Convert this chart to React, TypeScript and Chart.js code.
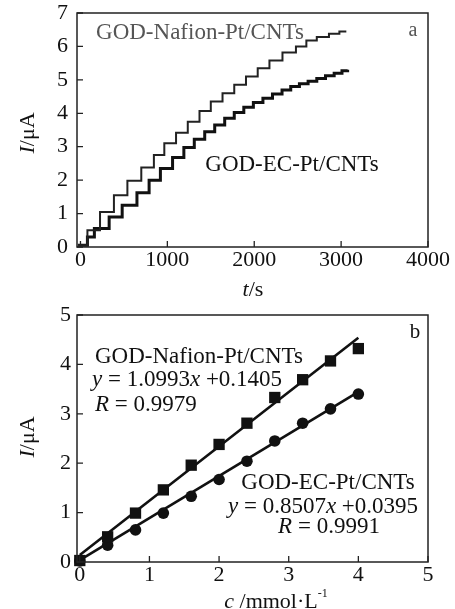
import React, { useEffect, useRef } from 'react';
import { Chart, registerables } from 'chart.js';

Chart.register(...registerables);

// ---------- Panel a: amperometric response (step curves) ----------
const NAFION_T = [-30, 80, 225, 385, 540, 700, 845, 965, 1100, 1235, 1370, 1500, 1635, 1770, 1905, 2040, 2175, 2325, 2480, 2600, 2720, 2860, 2980, 3060];
const NAFION_I = [0.05, 0.5, 1.05, 1.55, 1.98, 2.38, 2.75, 3.1, 3.42, 3.75, 4.07, 4.35, 4.6, 4.85, 5.1, 5.35, 5.58, 5.82, 6.0, 6.18, 6.28, 6.38, 6.45, 6.45];
const EC_T = [-30, 80, 160, 330, 480, 650, 790, 920, 1060, 1190, 1310, 1430, 1545, 1660, 1770, 1880, 1990, 2100, 2210, 2320, 2420, 2520, 2620, 2720, 2820, 2920, 3010, 3075];
const EC_I = [0.05, 0.3, 0.55, 0.9, 1.25, 1.62, 2.0, 2.35, 2.68, 2.98, 3.22, 3.45, 3.65, 3.85, 4.02, 4.18, 4.32, 4.45, 4.58, 4.7, 4.8, 4.88, 4.96, 5.04, 5.12, 5.2, 5.27, 5.3];
const A_X_TICKS = [0, 1000, 2000, 3000, 4000];
const A_Y_TICKS = [0, 1, 2, 3, 4, 5, 6, 7];

// ---------- Panel b: calibration ----------
const CONC = [0, 0.4, 0.8, 1.2, 1.6, 2.0, 2.4, 2.8, 3.2, 3.6, 4.0];
const NAFION_B = [0.03, 0.51, 0.99, 1.46, 1.96, 2.38, 2.81, 3.33, 3.69, 4.07, 4.32];
const EC_B = [0.02, 0.34, 0.65, 0.99, 1.33, 1.67, 2.04, 2.45, 2.81, 3.1, 3.4];
const FIT_X = [0, 4];
const NAFION_FIT = [0.1405, 4.5377];
const EC_FIT = [0.0395, 3.4423];
const B_X_TICKS = [0, 1, 2, 3, 4, 5];
const B_Y_TICKS = [0, 1, 2, 3, 4, 5];

const SERIF = '"Liberation Serif", "Times New Roman", serif';

type Part = { t: string; italic?: boolean; size?: number; dy?: number };
type TextItem = { x: number; y: number; parts: Part[]; size: number; color?: string; align?: 'left' | 'center' | 'right'; rotate?: number };

function drawRich(ctx: CanvasRenderingContext2D, item: TextItem) {
  ctx.save();
  ctx.translate(item.x, item.y);
  if (item.rotate) ctx.rotate(item.rotate);
  const fontOf = (p: Part) => `${p.italic ? 'italic ' : ''}${p.size ?? item.size}px ${SERIF}`;
  let total = 0;
  for (const p of item.parts) {
    ctx.font = fontOf(p);
    total += ctx.measureText(p.t).width;
  }
  let x = item.align === 'left' ? 0 : item.align === 'right' ? -total : -total / 2;
  ctx.textBaseline = 'middle';
  ctx.textAlign = 'left';
  ctx.fillStyle = item.color ?? '#111';
  for (const p of item.parts) {
    ctx.font = fontOf(p);
    ctx.fillText(p.t, x, p.dy ?? 0);
    x += ctx.measureText(p.t).width;
  }
  ctx.restore();
}

function makeDecorPlugin(texts: TextItem[]) {
  return {
    id: 'decor',
    afterDraw(chart: any) {
      const { ctx, chartArea: a, scales } = chart;
      ctx.save();
      ctx.strokeStyle = '#222';
      ctx.lineWidth = 1.5;
      ctx.strokeRect(a.left, a.top, a.right - a.left, a.bottom - a.top);
      ctx.lineWidth = 1.3;
      ctx.beginPath();
      for (const t of scales.x.ticks) {
        const px = scales.x.getPixelForValue(t.value);
        ctx.moveTo(px, a.bottom);
        ctx.lineTo(px, a.bottom - 6);
      }
      for (const t of scales.y.ticks) {
        const py = scales.y.getPixelForValue(t.value);
        ctx.moveTo(a.left, py);
        ctx.lineTo(a.left + 6, py);
      }
      ctx.stroke();
      ctx.restore();
      for (const it of texts) drawRich(ctx, it);
    },
  };
}

function xAxis(min: number, max: number, tickVals: number[], height: number, padding: number, size: number) {
  return {
    type: 'linear' as const,
    min,
    max,
    grid: { display: false },
    border: { display: false },
    ticks: {
      padding,
      color: '#111',
      maxRotation: 0,
      autoSkip: false,
      font: { family: SERIF, size },
      callback: (v: any) => String(v),
    },
    afterBuildTicks: (s: any) => {
      s.ticks = tickVals.map((v) => ({ value: v }));
    },
    afterFit: (s: any) => {
      s.height = height;
    },
  };
}

function yAxis(min: number, max: number, tickVals: number[], width: number, gap: number, size: number) {
  return {
    type: 'linear' as const,
    min,
    max,
    grid: { display: true, drawOnChartArea: false, drawTicks: true, tickLength: gap, tickColor: 'rgba(0,0,0,0)', color: 'rgba(0,0,0,0)' },
    border: { display: false },
    ticks: {
      padding: 0,
      color: '#111',
      autoSkip: false,
      font: { family: SERIF, size, lineHeight: 1 },
      callback: (v: any) => String(v),
    },
    afterBuildTicks: (s: any) => {
      s.ticks = tickVals.map((v) => ({ value: v }));
    },
    afterFit: (s: any) => {
      s.width = width;
    },
  };
}

function PanelA() {
  const ref = useRef<HTMLCanvasElement>(null);
  useEffect(() => {
    const texts: TextItem[] = [
      { x: 200, y: 33, parts: [{ t: 'GOD-Nafion-Pt/CNTs' }], size: 23, color: '#555' },
      { x: 292, y: 165, parts: [{ t: 'GOD-EC-Pt/CNTs' }], size: 23 },
      { x: 413, y: 31, parts: [{ t: 'a' }], size: 20, color: '#555' },
      { x: 28, y: 133, parts: [{ t: 'I', italic: true }, { t: '/μA' }], size: 22, rotate: -Math.PI / 2 },
      { x: 253, y: 290, parts: [{ t: 't', italic: true }, { t: '/s' }], size: 22 },
    ];
    const chart = new Chart(ref.current!, {
      type: 'line',
      data: {
        datasets: [
          {
            data: NAFION_T.map((t, i) => ({ x: t, y: NAFION_I[i] })),
            stepped: 'before',
            borderColor: '#222',
            borderWidth: 2,
            pointRadius: 0,
            fill: false,
          },
          {
            data: EC_T.map((t, i) => ({ x: t, y: EC_I[i] })),
            stepped: 'before',
            borderColor: '#111',
            borderWidth: 3,
            pointRadius: 0,
            fill: false,
          },
        ],
      },
      options: {
        animation: false,
        responsive: false,
        layout: { padding: { top: 13, right: 27, left: 0, bottom: 0 } },
        plugins: { legend: { display: false }, tooltip: { enabled: false } },
        scales: {
          x: xAxis(-40, 4000, A_X_TICKS, 53, -8, 22),
          y: yAxis(0, 7, A_Y_TICKS, 77, 9, 22),
        },
      },
      plugins: [makeDecorPlugin(texts)],
    } as any);
    return () => chart.destroy();
  }, []);
  return <canvas ref={ref} width={455} height={300} style={{ position: 'absolute', left: 0, top: 0 }} />;
}

function PanelB() {
  const ref = useRef<HTMLCanvasElement>(null);
  useEffect(() => {
    const texts: TextItem[] = [
      { x: 95, y: 57, parts: [{ t: 'GOD-Nafion-Pt/CNTs' }], size: 23, align: 'left' },
      { x: 92, y: 80, parts: [{ t: 'y', italic: true }, { t: ' = 1.0993' }, { t: 'x', italic: true }, { t: ' +0.1405' }], size: 23, align: 'left' },
      { x: 95, y: 105, parts: [{ t: 'R', italic: true }, { t: ' = 0.9979' }], size: 23, align: 'left' },
      { x: 328, y: 183, parts: [{ t: 'GOD-EC-Pt/CNTs' }], size: 23 },
      { x: 323, y: 207, parts: [{ t: 'y', italic: true }, { t: ' = 0.8507' }, { t: 'x', italic: true }, { t: ' +0.0395' }], size: 23 },
      { x: 329, y: 227, parts: [{ t: 'R', italic: true }, { t: ' = 0.9991' }], size: 23 },
      { x: 415, y: 32, parts: [{ t: 'b' }], size: 21 },
      { x: 28, y: 137, parts: [{ t: 'I', italic: true }, { t: '/μA' }], size: 22, rotate: -Math.PI / 2 },
      { x: 276, y: 302, parts: [{ t: 'c', italic: true }, { t: ' /mmol·L' }, { t: '-1', size: 12, dy: -8 }], size: 22 },
    ];
    const chart = new Chart(ref.current!, {
      type: 'scatter',
      data: {
        datasets: [
          {
            data: CONC.map((c, i) => ({ x: c, y: NAFION_B[i] })),
            pointStyle: 'rect',
            pointRadius: 8,
            backgroundColor: '#111',
            borderColor: '#111',
            borderWidth: 0,
            clip: false,
          },
          {
            data: CONC.map((c, i) => ({ x: c, y: EC_B[i] })),
            pointStyle: 'circle',
            pointRadius: 5.8,
            backgroundColor: '#111',
            borderColor: '#111',
            borderWidth: 0,
            clip: false,
          },
          {
            type: 'line',
            data: FIT_X.map((c, i) => ({ x: c, y: NAFION_FIT[i] })),
            borderColor: '#111',
            borderWidth: 2.6,
            pointRadius: 0,
            showLine: true,
            fill: false,
          },
          {
            type: 'line',
            data: FIT_X.map((c, i) => ({ x: c, y: EC_FIT[i] })),
            borderColor: '#111',
            borderWidth: 2.6,
            pointRadius: 0,
            showLine: true,
            fill: false,
          },
        ],
      },
      options: {
        animation: false,
        responsive: false,
        layout: { padding: { top: 15, right: 27, left: 0, bottom: 0 } },
        plugins: { legend: { display: false }, tooltip: { enabled: false } },
        scales: {
          x: xAxis(-0.04, 5, B_X_TICKS, 47, -8, 22),
          y: yAxis(0, 5, B_Y_TICKS, 77, 6, 22),
        },
      },
      plugins: [makeDecorPlugin(texts)],
    } as any);
    return () => chart.destroy();
  }, []);
  return <canvas ref={ref} width={455} height={309} style={{ position: 'absolute', left: 0, top: 300 }} />;
}

export default function App() {
  return (
    <div style={{ position: 'absolute', left: 0, top: 0, width: 455, height: 609, background: '#fff', overflow: 'hidden' }}>
      <PanelA />
      <PanelB />
    </div>
  );
}
